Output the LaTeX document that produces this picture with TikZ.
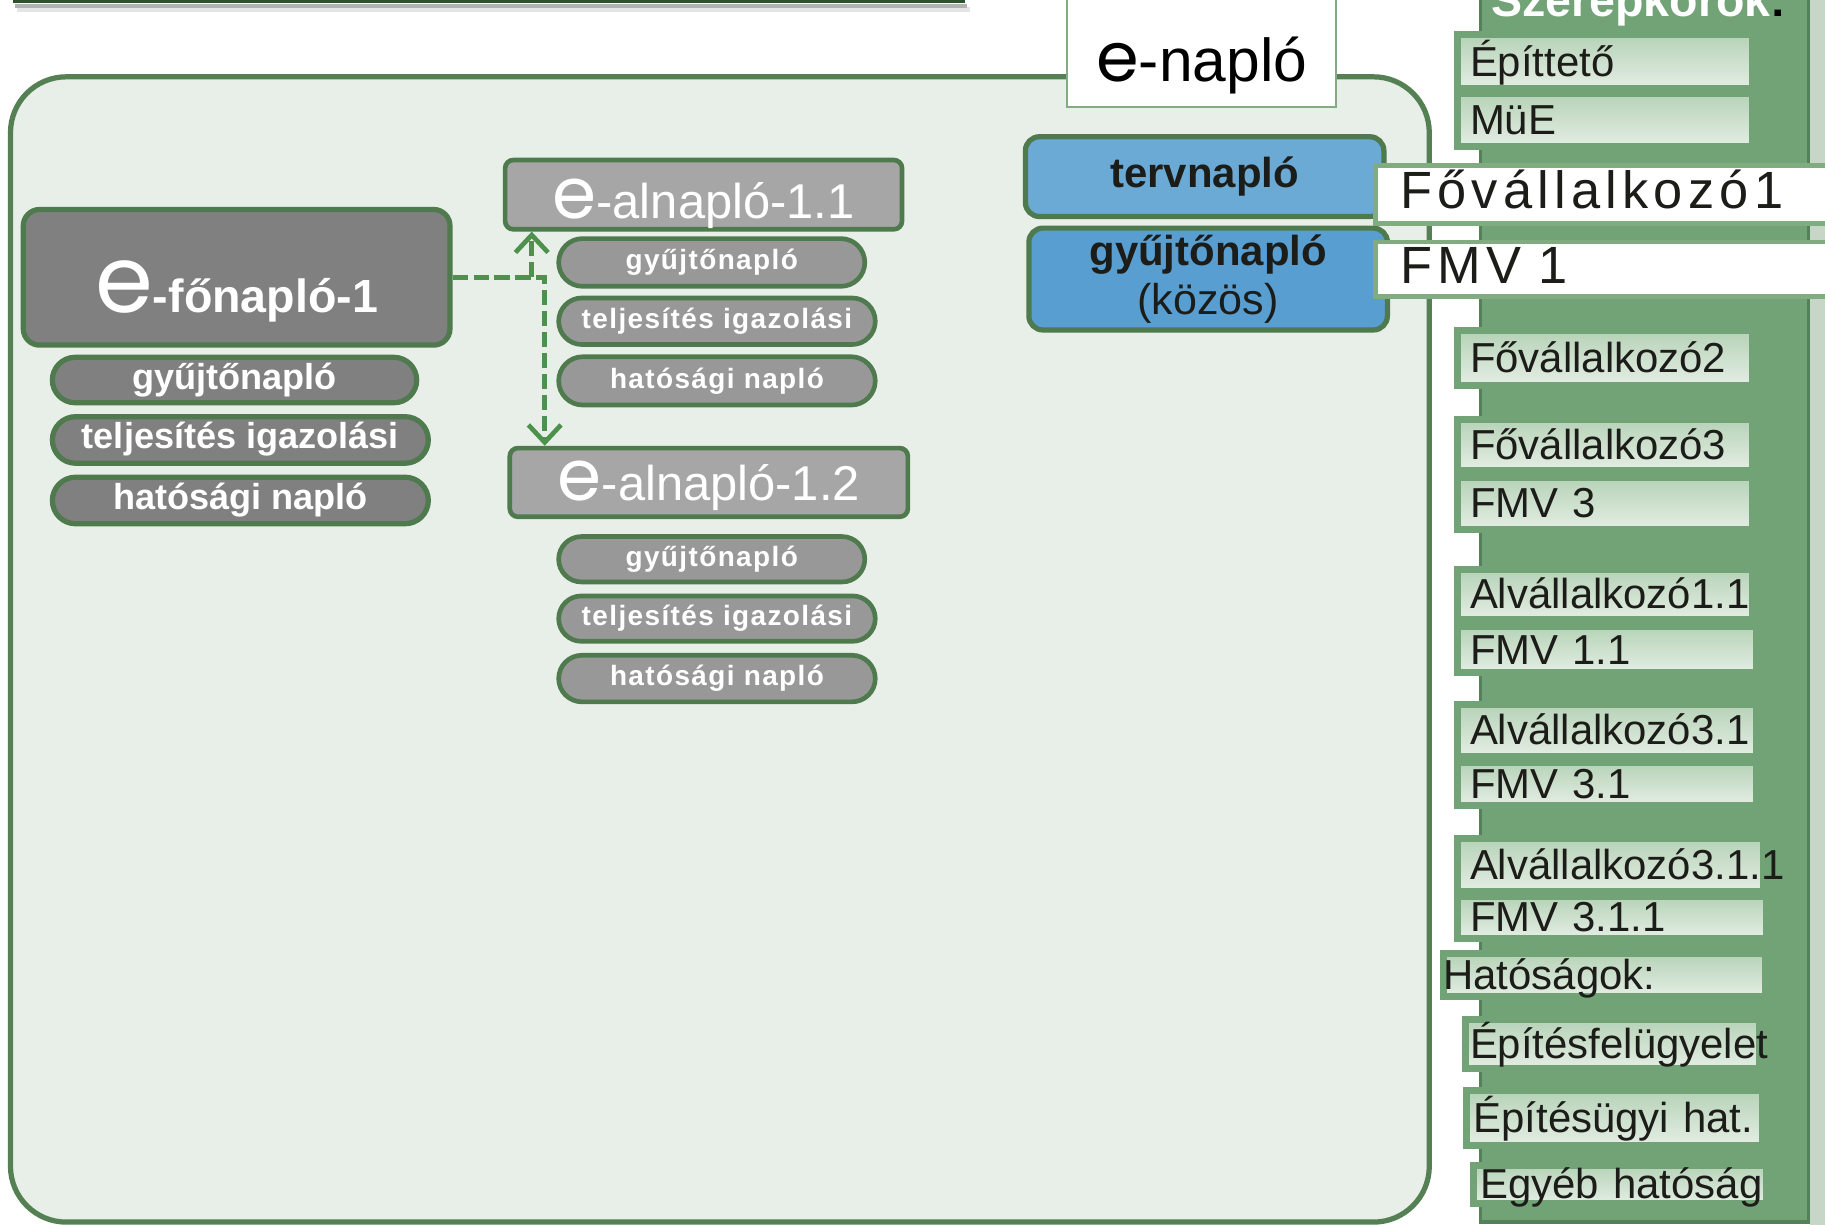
\documentclass[tikz,border=0pt]{standalone}
\usepackage{fontspec}
\setmainfont{Liberation Sans}
\newfontfamily\efont{Poppins}
\newfontfamily\leadfont[LetterSpace=10]{Liberation Sans}
\newfontfamily\pillfont[LetterSpace=5]{Liberation Sans}
\usetikzlibrary{positioning,calc,arrows.meta,shapes.misc}

\definecolor{panelfill}{RGB}{232,239,232}
\definecolor{panelline}{RGB}{84,128,84}
\definecolor{boxline}{RGB}{78,122,78}
\definecolor{fogrey}{RGB}{128,128,128}
\definecolor{algrey}{RGB}{166,166,166}
\definecolor{subpillgrey}{RGB}{152,152,152}
\definecolor{linkgreen}{RGB}{76,145,76}
\definecolor{tervblue}{RGB}{108,170,214}
\definecolor{gyujtoblue}{RGB}{89,158,209}
\definecolor{colgreen}{RGB}{114,163,118}
\definecolor{colline}{RGB}{84,130,88}
\definecolor{roletop}{RGB}{182,210,183}
\definecolor{rolebot}{RGB}{228,238,228}
\definecolor{leadline}{RGB}{128,172,128}
\definecolor{stripgrey}{RGB}{199,214,199}
\definecolor{titlegreen}{RGB}{45,80,45}
\definecolor{ink}{RGB}{28,28,24}

\tikzset{
	panel/.style={draw=panelline, line width=4.5pt, fill=panelfill, rounded corners=48pt}, % the big frame
	tab/.style={draw=leadline, line width=2pt, fill=white, inner sep=0pt}, % e-naplo tab
	fobox/.style={draw=boxline, line width=4.5pt, fill=fogrey, rounded corners=14pt, inner sep=0pt},
	subbox/.style={draw=boxline, line width=4pt, fill=algrey, rounded corners=7pt, inner sep=0pt,
		font=\fontsize{42}{46}\selectfont, text=white},
	mainpill/.style={rounded rectangle, draw=boxline, line width=4.5pt, fill=fogrey, inner sep=0pt,
		font=\bfseries\fontsize{31}{34}\selectfont, text=white, text height=22pt, text depth=6.5pt},
	subpill/.style={rounded rectangle, draw=boxline, line width=4pt, fill=subpillgrey, inner sep=0pt,
		font=\pillfont\bfseries\fontsize{24}{28}\selectfont, text=white, text height=17.5pt, text depth=5pt},
	journal/.style={draw=boxline, line width=4.5pt, rounded corners=12pt, inner sep=0pt,
		font=\bfseries\fontsize{36}{42}\selectfont, text=ink}, % blue boxes
	lead/.style={rectangle, draw=leadline, line width=4pt, fill=white, minimum height=50pt,
		text width=386pt, align=left, inner xsep=21pt, inner ysep=0pt,
		font=\leadfont\fontsize{45}{50}\selectfont, text=ink, text height=34pt, text depth=10pt},
	role/.style={rectangle, anchor=west, draw=colgreen, line width=6pt, top color=roletop, bottom color=rolebot,
		text width=232pt, align=left, inner xsep=11pt, inner ysep=0pt,
		font=\fontsize{36}{40}\selectfont, text=ink, text height=28pt, text depth=3pt},
	link/.style={draw=linkgreen, line width=4pt, dash pattern=on 13pt off 5pt,
		-{Straight Barb[length=15pt, width=28pt, line width=4pt]}}, % dashed arrows
}

\begin{document}
\begin{tikzpicture}[x=1pt, y=-1pt]
	\useasboundingbox (0,0) rectangle (1568,1052);
	\clip (0,0) rectangle (1568,1052);
	\fill[white] (0,0) rectangle (1568,1052);

	% title rule, cut by the top edge
	\draw[black!10, line width=4pt] (15,8) -- (833,8);
	\draw[black!30, line width=3pt] (13,5) -- (831,5);
	\draw[titlegreen, line width=3pt] (11,1.5) -- (829,1.5);

	% role column
	\fill[stripgrey] (1555,-10) rectangle (1570,1060);
	\draw[colline, line width=3pt, fill=colgreen] (1272,-10) rectangle (1554,1050);
	\node[anchor=base, font=\bfseries\fontsize{40}{44}\selectfont, text=white] (szerep) at (1408,14.5) {Szerepkörök\textcolor{black}{:}};

	% frame
	\draw[panel] (9,66) rectangle (1228,1050);

	\node[tab, minimum width=231pt, minimum height=112pt] (enaplo) at (1032.5,36) {};
	\node[anchor=base, font=\fontsize{52}{56}\selectfont, text=black] (enaplotext) at (1032.5,70) {{\efont\fontsize{59}{59}\selectfont e}-napló};

	\node[journal, fill=tervblue, minimum width=308pt, minimum height=68.5pt, text height=26pt, text depth=7.5pt] (terv) at (1035,151.75) {tervnapló};
	\node[journal, fill=gyujtoblue, minimum width=308pt, minimum height=87.5pt, align=center] (gyujto) at (1038,239.75) {gyűjtőnapló\\{\mdseries\fontsize{37}{42}\selectfont(közös)}};

	\node[lead] (fov1) at (1396,167) {Fővállalkozó1};
	\node[lead, minimum height=47pt] (fmv1) at (1396,231.5) {FMV 1};

	% roles
	\node[role, minimum height=46pt] (epitteto) at (1249,53) {Építtető};
	\node[role, minimum height=46pt] (mue) at (1249,103) {MüE};
	\node[role, minimum height=47pt] (fov2) at (1249,307.5) {Fővállalkozó2};
	\node[role, minimum height=44pt] (fov3) at (1249,382) {Fővállalkozó3};
	\node[role, minimum height=45pt] (fmv3) at (1249,432.5) {FMV 3};
	\node[role, minimum height=43pt] (alv11) at (1249,510.5) {Alvállalkozó1.1};
	\node[role, minimum height=40pt, text width=235pt] (fmv11) at (1249,558) {FMV 1.1};
	\node[role, minimum height=45pt, text width=235pt] (alv31) at (1249,627.5) {Alvállalkozó3.1};
	\node[role, minimum height=37pt, text width=235pt] (fmv31) at (1249,673.5) {FMV 3.1};
	\node[role, minimum height=46pt, text width=241pt] (alv311) at (1249,743) {\mbox{Alvállalkozó3.1.1}};
	\node[role, minimum height=36pt, text width=244pt] (fmv311) at (1249,788) {FMV 3.1.1};
	\node[role, minimum height=37pt, text width=277pt, inner xsep=0pt] (hatosagok) at (1237,837.5) {Hatóságok:};
	\node[role, minimum height=42pt, text width=245pt, inner xsep=4pt] (epfel) at (1256,897) {\mbox{Építésfelügyelet}};
	\node[role, minimum height=47pt, text width=242pt, inner xsep=6pt] (epugy) at (1257,960.5) {\mbox{Építésügyi hat.}};
	\node[role, minimum height=33pt, text width=240pt, inner xsep=6pt] (egyeb) at (1263,1017.5) {\mbox{Egyéb hatóság}};

	% main journal
	\node[fobox, minimum width=366.6pt, minimum height=116.5pt] (fo) at (203.3,238.25) {};
	\node[anchor=base, text=white] (fotext) at ($(fo.center)+(0,30)$) {{\efont\fontsize{80}{80}\selectfont e}{\bfseries\fontsize{40}{46}\selectfont -főnapló-1}};
	\node[mainpill, minimum width=313pt, minimum height=39pt] (fogyujto) at (201.5,326.5) {gyűjtőnapló};
	\node[mainpill, minimum width=323pt, minimum height=40pt] (fotelj) at (206.5,378) {teljesítés igazolási};
	\node[mainpill, minimum width=323pt, minimum height=40pt] (fohat) at (206.5,430) {hatósági napló};

	% sub journals
	\node[subbox, minimum width=341pt, minimum height=59.5pt] (al11) at (604.5,167.25) {};
	\node[subbox, draw=none, fill=none, anchor=base] (al11text) at ($(al11.north)+(0,52)$) {{\efont\fontsize{61}{61}\selectfont e}-alnapló-1.1};
	\node[subpill, minimum width=263pt, minimum height=41pt] (al11gyujto) at (611.5,225.5) {gyűjtőnapló};
	\node[subpill, minimum width=272pt, minimum height=40pt] (al11telj) at (616,276) {teljesítés igazolási};
	\node[subpill, minimum width=272pt, minimum height=41.5pt] (al11hat) at (616,327.25) {hatósági napló};

	\node[subbox, minimum width=342pt, minimum height=59pt] (al12) at (609,414.5) {};
	\node[subbox, draw=none, fill=none, anchor=base] (al12text) at ($(al12.north)+(0,47)$) {{\efont\fontsize{61}{61}\selectfont e}-alnapló-1.2};
	\node[subpill, minimum width=263pt, minimum height=39pt] (al12gyujto) at (611.5,480.5) {gyűjtőnapló};
	\node[subpill, minimum width=272pt, minimum height=39pt] (al12telj) at (616,531.5) {teljesítés igazolási};
	\node[subpill, minimum width=272pt, minimum height=40pt] (al12hat) at (616,583) {hatósági napló};

	\coordinate (branch) at ($(fo.east)+(68,0)$);
	\draw[link] (fo.east) -| ($(al12.north west)+(32,0)$);
	\draw[link] (branch) -- (branch |- al11.south);
\end{tikzpicture}
\end{document}
